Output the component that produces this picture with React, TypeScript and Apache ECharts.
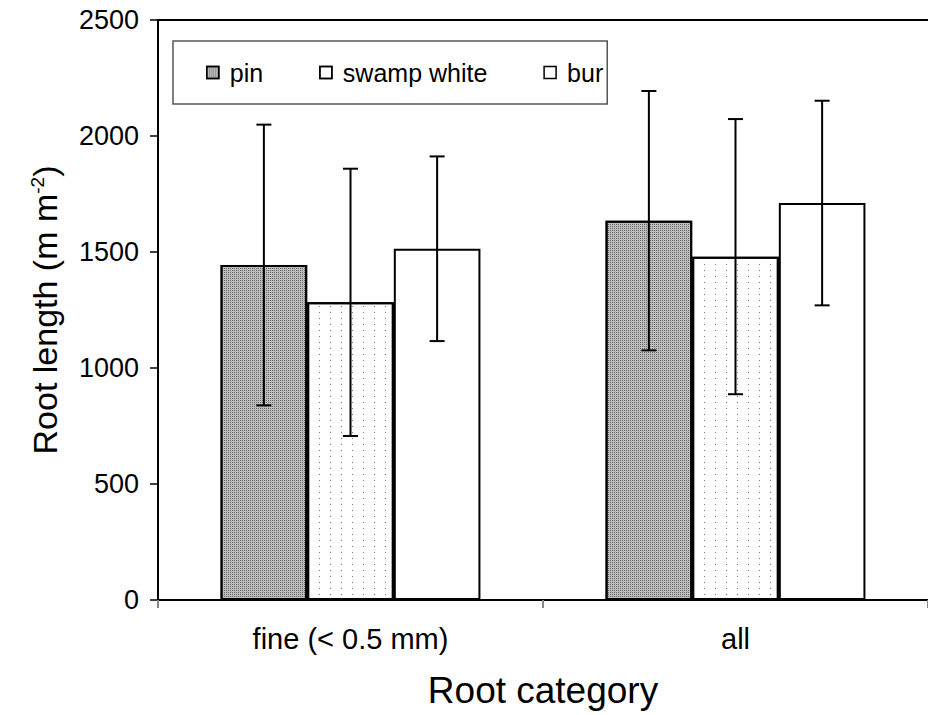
import React, { useEffect, useRef } from "react";
import * as echarts from "echarts";

const categories = ["fine (< 0.5 mm)", "all"];
const speciesNames = ["pin", "swamp white", "bur"];
const pinMean = [1444, 1635];
const pinSd = [605, 559];
const swampMean = [1283, 1480];
const swampSd = [576, 593];
const burMean = [1514, 1711];
const burSd = [398, 441];
const yTicks = { min: 0, max: 2500, interval: 500 };

const FONT = "'Liberation Sans', Arial, sans-serif";
const BAR_FRAC = 0.225;

export default function App() {
  const ref = useRef<HTMLDivElement>(null);
  useEffect(() => {
    if (!ref.current) return;
    const chart = echarts.init(ref.current, null, { renderer: "svg" });
    const means = [pinMean, swampMean, burMean];
    const sds = [pinSd, swampSd, burSd];
    const styles = [
      {
        color: "#bdbdbd",
        borderColor: "#000",
        borderWidth: 2,
        decal: { symbol: "rect", symbolSize: 1, dashArrayX: [1, 1], dashArrayY: [1, 1], color: "#6a6a6a" },
      },
      {
        color: "#ffffff",
        borderColor: "#000",
        borderWidth: 2,
        decal: { symbol: "rect", symbolSize: 1, dashArrayX: [1, 10], dashArrayY: [1, 5], color: "#7a7a7a" },
      },
      { color: "#ffffff", borderColor: "#000", borderWidth: 2 },
    ];
    const barSeries = speciesNames.map((name, i) => ({
      name,
      type: "bar",
      data: means[i],
      barWidth: BAR_FRAC * 100 + "%",
      barGap: "0%",
      itemStyle: styles[i],
      emphasis: { disabled: true },
      z: 2,
    }));
    const errSeries = speciesNames.map((name, i) => ({
      name: name + " sd",
      type: "custom",
      z: 5,
      data: categories.map((_, c) => [c, means[i][c] - sds[i][c], means[i][c] + sds[i][c]]),
      renderItem: (params: any, api: any) => {
        const band = api.size([1, 0])[0];
        const off = (i - 1) * band * BAR_FRAC;
        const lo = api.coord([api.value(0), api.value(1)]);
        const hi = api.coord([api.value(0), api.value(2)]);
        const x = lo[0] + off;
        const cap = 7.5;
        const st = { stroke: "#000", lineWidth: 2 };
        return {
          type: "group",
          children: [
            { type: "line", shape: { x1: x, y1: lo[1], x2: x, y2: hi[1] }, style: st },
            { type: "line", shape: { x1: x - cap, y1: lo[1], x2: x + cap, y2: lo[1] }, style: st },
            { type: "line", shape: { x1: x - cap, y1: hi[1], x2: x + cap, y2: hi[1] }, style: st },
          ],
        };
      },
    }));
    chart.setOption({
      animation: false,
      textStyle: { fontFamily: FONT, color: "#000" },
      grid: { left: 158, top: 20, right: 0, bottom: 115 },
      legend: {
        data: speciesNames,
        left: 173,
        top: 41,
        orient: "horizontal",
        padding: [19, 4, 19, 33],
        borderColor: "#555",
        borderWidth: 1.5,
        itemWidth: 12,
        itemHeight: 12,
        itemGap: 56,
        icon: "rect",
        itemStyle: { borderWidth: 1.5, borderColor: "#000" },
        textStyle: { fontSize: 25, fontFamily: FONT, color: "#000", padding: [0, 0, 0, 6] },
        selectedMode: false,
      },
      xAxis: [
        {
          type: "category",
          data: categories,
          position: "bottom",
          axisLine: { lineStyle: { color: "#000", width: 2 } },
          axisTick: { show: true, length: 8, interval: 0, lineStyle: { color: "#888", width: 2 } },
          axisLabel: { fontSize: 29, fontFamily: FONT, color: "#000", margin: 24, interval: 0 },
          name: "Root category",
          nameLocation: "middle",
          nameGap: 72,
          nameTextStyle: { fontSize: 37, fontFamily: FONT, color: "#000" },
        },
        {
          type: "category",
          data: categories,
          position: "top",
          axisLine: { lineStyle: { color: "#000", width: 2 } },
          axisTick: { show: false },
          axisLabel: { show: false },
        },
      ],
      yAxis: {
        type: "value",
        min: yTicks.min,
        max: yTicks.max,
        interval: yTicks.interval,
        axisLine: { show: true, lineStyle: { color: "#000", width: 2 } },
        axisTick: { show: true, length: 8, lineStyle: { color: "#000", width: 1.5 } },
        splitLine: { show: false },
        axisLabel: {
          fontSize: 27,
          fontFamily: FONT,
          color: "#000",
          margin: 19,
          formatter: (v: number) => String(v),
        },
        name: "{a|Root length (m m}{s|-2}{a|)}",
        nameLocation: "middle",
        nameGap: 96,
        nameTextStyle: {
          fontFamily: FONT,
          color: "#000",
          rich: {
            a: { fontSize: 34, fontFamily: FONT, color: "#000" },
            s: { fontSize: 19, fontFamily: FONT, color: "#000", verticalAlign: "top" },
          },
        },
      },
      series: [...barSeries, ...errSeries],
    });
    return () => chart.dispose();
  }, []);
  return (
    <div
      ref={ref}
      style={{ position: "absolute", left: 0, top: 0, width: 928, height: 715, background: "#fff" }}
    />
  );
}
